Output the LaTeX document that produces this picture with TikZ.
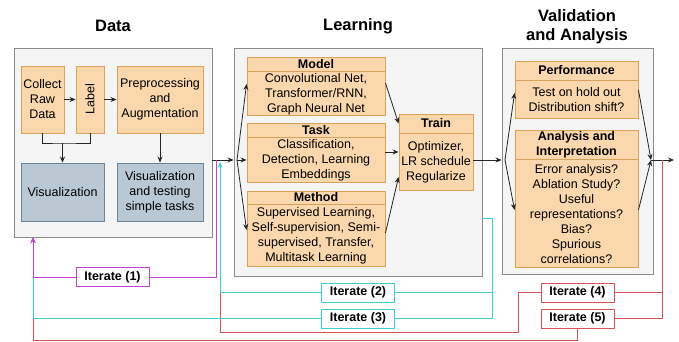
\documentclass[tikz,border=0pt]{standalone}
\usepackage{fontspec}
\setmainfont{Liberation Sans}
\usetikzlibrary{arrows.meta}

\definecolor{panelfill}{HTML}{F5F5F5}
\definecolor{panelline}{HTML}{8C8C8C}
\definecolor{stagefill}{HTML}{FAD7AC}
\definecolor{stageline}{HTML}{D9A25A}
\definecolor{vizfill}{HTML}{BAC8D3}
\definecolor{vizline}{HTML}{6F8596}
\definecolor{loopmag}{HTML}{C540D0}
\definecolor{loopcyan}{HTML}{40CDD0}
\definecolor{loopred}{HTML}{D9545A}

\tikzset{
  panel/.style={draw=panelline, fill=panelfill, line width=0.9pt},
  stage/.style={draw=stageline, fill=stagefill, line width=0.9pt, align=center, inner sep=1pt},
  stagehead/.style={stage, font=\fontsize{12.5}{15}\selectfont\bfseries},
  viz/.style={draw=vizline, fill=vizfill, line width=0.9pt, align=center, inner sep=1pt},
  title/.style={font=\fontsize{16.5}{19}\selectfont\bfseries, align=center},
  iter/.style={fill=white, line width=1pt, font=\fontsize{12.5}{15}\selectfont\bfseries,
    minimum width=73pt, minimum height=19pt, inner sep=1pt},
  flowarrow/.style={draw=black!85, line width=0.8pt, -{Stealth[length=6pt,width=5pt]}},
  iterline/.style={line width=1pt},
  iterarrow/.style={line width=1pt, -{Stealth[length=6pt,width=5pt]}},
}

\begin{document}
\begin{tikzpicture}[x=1pt, y=-1pt, font=\fontsize{12.5}{15}\selectfont]
\useasboundingbox (0,0) rectangle (679,342);

% column titles
\node[title] (tdata) at (113,26) {Data};
\node[title] (tlearn) at (358,26) {Learning};
\node[title] (tvalid) at (577,27) {Validation\\and Analysis};

% the three panels
\node[panel, minimum width=198pt, minimum height=189pt] (data) at (113,142.5) {};
\node[panel, minimum width=248pt, minimum height=228pt] (learn) at (358,162) {};
\node[panel, minimum width=151pt, minimum height=226pt] (valid) at (577.5,161) {};

% data
\node[stage, minimum width=43pt, minimum height=67pt] (collect) at (42.5,99.5) {Collect\\Raw\\Data};
\node[stage, rotate=90, minimum width=67pt, minimum height=28pt] (label) at (90,99.5) {Label};
\node[stage, minimum width=86pt, minimum height=67pt] (prep) at (160,99.5) {Preprocessing\\and\\Augmentation};
\node[viz, minimum width=83pt, minimum height=58pt] (vis) at (62.5,192) {Visualization};
\node[viz, minimum width=86pt, minimum height=58pt] (vistest) at (160,192) {Visualization\\and testing\\simple tasks};

\draw[flowarrow] (collect) -- (label);
\draw[flowarrow] (label) -- (prep);
\coordinate (vmerge) at (vis.north |- 0,143);
\draw[draw=black!85, line width=0.8pt] (collect.south) |- (vmerge) -| (label.west);
\draw[flowarrow] (vmerge) -- (vis.north);
\draw[flowarrow] (prep) -- (vistest);

% learning
\node[stagehead, minimum width=138pt, minimum height=14pt] (modelhead) at (316,64) {Model};
\node[stage, minimum width=138pt, minimum height=44pt, anchor=north] (model) at (modelhead.south)
  {Convolutional Net,\\Transformer/RNN,\\Graph Neural Net};
\node[stagehead, minimum width=138pt, minimum height=14pt] (taskhead) at (316,130) {Task};
\node[stage, minimum width=138pt, minimum height=45pt, anchor=north] (task) at (taskhead.south)
  {Classification,\\Detection, Learning\\Embeddings};
\node[stagehead, minimum width=138pt, minimum height=13pt] (methodhead) at (316,197.5) {Method};
\node[stage, minimum width=138pt, minimum height=62pt, anchor=north] (method) at (methodhead.south)
  {Supervised Learning,\\Self-supervision, Semi-\\supervised, Transfer,\\Multitask Learning};
\node[stagehead, minimum width=74pt, minimum height=19pt] (trainhead) at (436,123.5) {Train};
\node[stage, minimum width=74pt, minimum height=57pt, anchor=north] (train) at (trainhead.south)
  {Optimizer,\\LR schedule\\Regularize};

\coordinate (lsplit) at (237,160);
\draw[flowarrow] (data.east |- lsplit) -- (learn.west |- lsplit);
\draw[flowarrow] (lsplit) -- (model.west |- 0,84);
\draw[flowarrow] (lsplit) -- (task.west |- lsplit);
\draw[flowarrow] (lsplit) -- (method.west |- 0,230);
\draw[flowarrow] (model.east |- 0,83) -- (trainhead.west);
\draw[flowarrow] (task.east |- 0,152) -- (train.west |- 0,152);
\draw[flowarrow] (method.east |- 0,233) -- (train.west |- 0,177);

% validation and analysis
\node[stagehead, minimum width=123pt, minimum height=19pt] (perfhead) at (576.5,70.5) {Performance};
\node[stage, minimum width=123pt, minimum height=38pt, anchor=north] (perf) at (perfhead.south)
  {Test on hold out\\Distribution shift?};
\node[stagehead, minimum width=123pt, minimum height=29pt] (anhead) at (576.5,144.5) {Analysis and\\Interpretation};
\node[stage, minimum width=123pt, minimum height=108pt, anchor=north] (analysis) at (anhead.south)
  {Error analysis?\\Ablation Study?\\Useful\\representations?\\Bias?\\Spurious\\correlations?};

\coordinate (vsplit) at (505,160);
\coordinate (vjoin) at (651,160);
\coordinate (vout) at (674,160);
\draw[flowarrow] (train.east |- vsplit) -- (valid.west |- vsplit);
\draw[flowarrow] (vsplit) -- (perf.west |- 0,93);
\draw[flowarrow] (vsplit) -- (analysis.west |- 0,210);
\draw[flowarrow] (perf.east |- 0,90) -- (vjoin);
\draw[flowarrow] (analysis.east |- 0,210) -- (vjoin);
\draw[flowarrow] (vjoin) -- (vout);

% iteration loops
\node[iter, draw=loopmag] (it1) at (112.5,277) {Iterate (1)};
\node[iter, draw=loopcyan] (it2) at (358,292.5) {Iterate (2)};
\node[iter, draw=loopcyan] (it3) at (358,318.5) {Iterate (3)};
\node[iter, draw=loopred] (it4) at (577.5,292.5) {Iterate (4)};
\node[iter, draw=loopred] (it5) at (577.5,318.5) {Iterate (5)};

\coordinate (din) at (33,237);
\coordinate (cin) at (220,162);
\coordinate (mtap) at (216,160);
\coordinate (rtap) at (662,160);
\coordinate (ctap) at (492,318.5);

\draw[iterline, draw=loopred] (rtap) |- (it5.east);
\draw[iterline, draw=loopred] (it4.east) -- (it4.east -| rtap);
\draw[iterline, draw=loopred] (it4.west) -| (518,332) -| (cin |- it2.west);
\draw[iterarrow, draw=loopred] (it5.south) |- (din |- 0,340) -- (din);

\draw[iterline, draw=loopcyan] (learn.east |- 0,218) -| (ctap) -- (it3.east);
\draw[iterline, draw=loopcyan] (it2.east) -- (it2.east -| ctap);
\draw[iterarrow, draw=loopcyan] (it2.west) -| (cin);
\draw[iterarrow, draw=loopcyan] (it3.west) -| (din);

\draw[iterline, draw=loopmag] (mtap) |- (it1.east);
\draw[iterarrow, draw=loopmag] (it1.west) -| (din);
\end{tikzpicture}
\end{document}
